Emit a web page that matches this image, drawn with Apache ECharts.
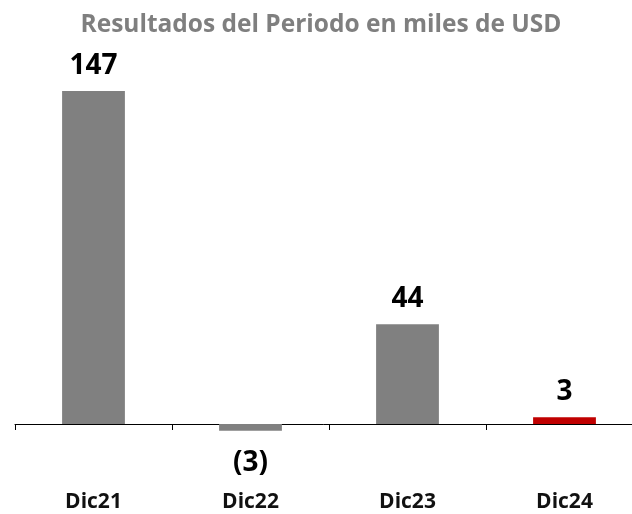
<!DOCTYPE html>
<html>
<head>
<meta charset="utf-8">
<script src="https://cdn.jsdelivr.net/npm/echarts@6/dist/echarts.min.js"></script>
<style>
  html, body { margin: 0; padding: 0; background: #fff; }
  #chart { width: 632px; height: 514px; }
</style>
</head>
<body>
<div id="chart"></div>
<script>
// datos del gráfico
const categories = ['Dic21', 'Dic22', 'Dic23', 'Dic24'];
const values = [147, -3, 44, 3];
const barColors = ['#808080', '#808080', '#808080', '#c00000'];

const chart = echarts.init(document.getElementById('chart'));

const option = {
    backgroundColor: '#ffffff',
    title: {
        text: 'Resultados del Periodo en miles de USD',
        left: 316,
        textAlign: 'center',
        top: 8,
        textStyle: {
            fontFamily: 'Open Sans',
            fontWeight: 'bold',
            fontSize: 24.5,
            color: '#7f7f7f'
        }
    },
    grid: {
        left: 15,
        right: -11,
        top: 61.6,
        bottom: 44.7,
        containLabel: false,
        outerBoundsMode: 'none'
    },
    xAxis: {
        type: 'category',
        data: categories,
        axisLine: { onZero: true, lineStyle: { color: '#000', width: 1 } },
        axisTick: { show: true, length: 6, lineStyle: { color: '#000' } },
        axisLabel: {
            margin: 22,
            fontFamily: 'Open Sans',
            fontWeight: 'bold',
            fontSize: 21,
            color: '#111'
        }
    },
    yAxis: {
        type: 'value',
        min: -20,
        max: 160,
        show: false,
        splitLine: { show: false }
    },
    series: [
        {
            type: 'bar',
            barWidth: '40%',
            data: values.map((v, i) => ({
                value: v,
                itemStyle: { color: barColors[i] },
                label: {
                    position: v < 0 ? 'bottom' : 'top',
                    distance: v < 0 ? 18 : 11
                }
            })),
            label: {
                show: true,
                fontFamily: 'Open Sans',
                fontWeight: 'bold',
                fontSize: 28,
                color: '#000',
                formatter: p => p.value < 0 ? '(' + Math.abs(p.value) + ')' : String(p.value)
            }
        }
    ]
};

chart.setOption(option);
</script>
</body>
</html>
